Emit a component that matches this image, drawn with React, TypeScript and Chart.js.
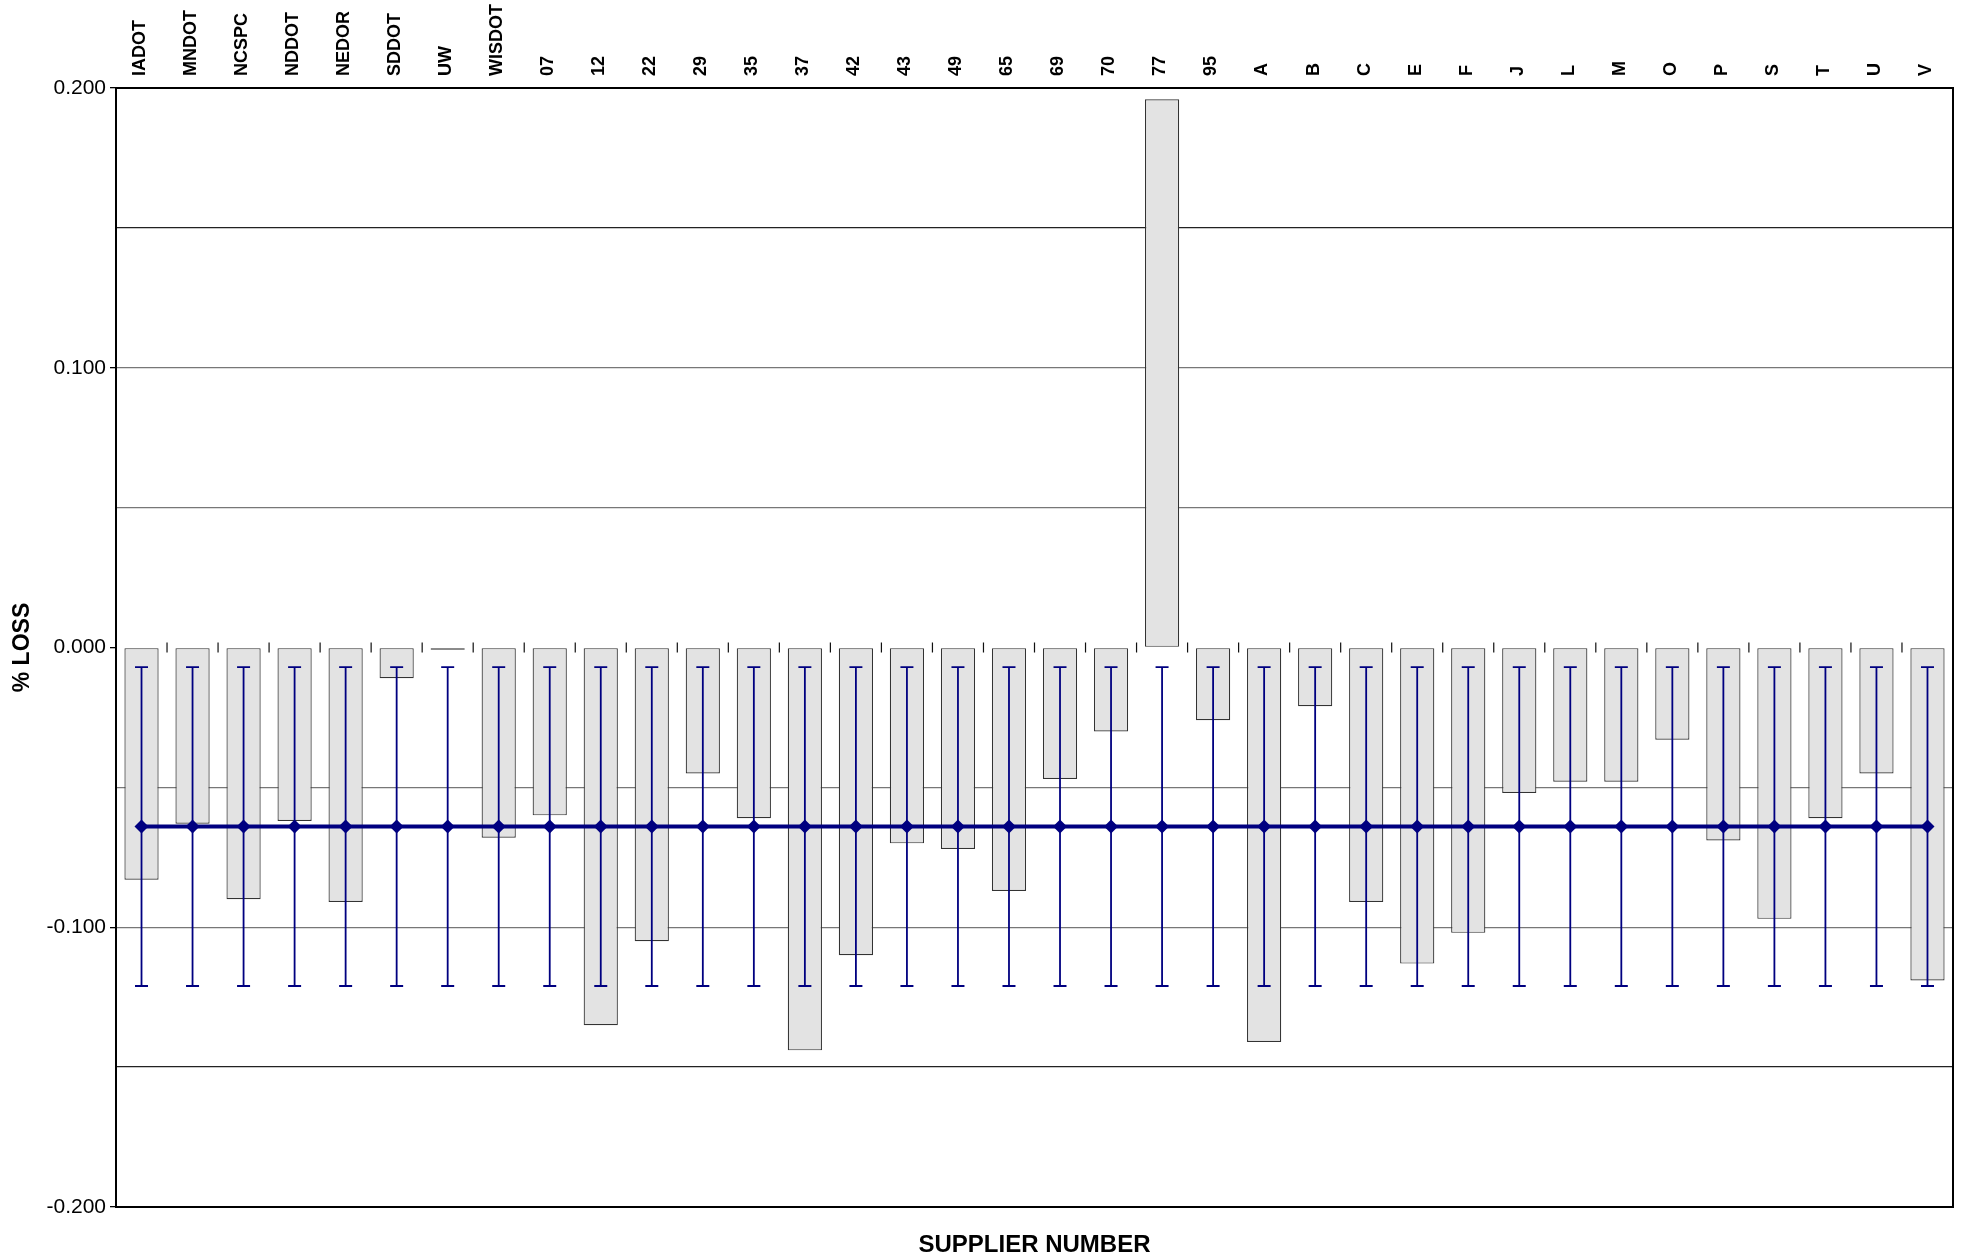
import React, { useEffect, useRef } from "react";
import { Chart, registerables } from "chart.js";

Chart.register(...registerables);

const categories = [
  "IADOT", "MNDOT", "NCSPC", "NDDOT", "NEDOR", "SDDOT", "UW", "WISDOT",
  "07", "12", "22", "29", "35", "37", "42", "43", "49", "65", "69", "70", "77", "95",
  "A", "B", "C", "E", "F", "J", "L", "M", "O", "P", "S", "T", "U", "V",
];

const lossValues = [
  -0.083, -0.063, -0.090, -0.062, -0.091, -0.011, -0.0008, -0.068,
  -0.060, -0.135, -0.105, -0.045, -0.061, -0.144, -0.110, -0.070, -0.072, -0.087, -0.047, -0.030, 0.196, -0.026,
  -0.141, -0.021, -0.091, -0.113, -0.102, -0.052, -0.048, -0.048, -0.033, -0.069, -0.097, -0.061, -0.045, -0.119,
];

const meanValues = categories.map(() => -0.064);
const errorMargins = categories.map(() => 0.057);

const yTickLabels = ["-0.200", "-0.100", "0.000", "0.100", "0.200"];

const FONT = "'Liberation Sans', Arial, sans-serif";
const NAVY = "#000080";

const errorBarPlugin = {
  id: "errorBars",
  afterDatasetsDraw(chart: any) {
    const x = chart.scales.x;
    const y = chart.scales.y;
    const ctx = chart.ctx;
    ctx.save();
    ctx.strokeStyle = NAVY;
    ctx.lineWidth = 1.8;
    meanValues.forEach((m, i) => {
      const px = x.getPixelForValue(i);
      const top = y.getPixelForValue(m + errorMargins[i]);
      const bot = y.getPixelForValue(m - errorMargins[i]);
      ctx.beginPath();
      ctx.moveTo(px, top);
      ctx.lineTo(px, bot);
      ctx.moveTo(px - 6.5, top);
      ctx.lineTo(px + 6.5, top);
      ctx.moveTo(px - 6.5, bot);
      ctx.lineTo(px + 6.5, bot);
      ctx.stroke();
    });
    ctx.restore();
  },
};

const frameAndZeroTicks = {
  id: "frameAndZeroTicks",
  afterDraw(chart: any) {
    const { ctx, chartArea } = chart;
    const x = chart.scales.x;
    const y = chart.scales.y;
    const y0 = y.getPixelForValue(0);
    ctx.save();
    ctx.strokeStyle = "#111";
    ctx.lineWidth = 1.2;
    ctx.beginPath();
    for (let i = 0; i < categories.length - 1; i++) {
      const bx = (x.getPixelForValue(i) + x.getPixelForValue(i + 1)) / 2;
      ctx.moveTo(bx, y0 - 5);
      ctx.lineTo(bx, y0 + 5);
    }
    ctx.stroke();
    ctx.strokeStyle = "#000";
    ctx.lineWidth = 2;
    ctx.strokeRect(chartArea.left, chartArea.top, chartArea.right - chartArea.left, chartArea.bottom - chartArea.top);
    ctx.restore();
  },
};

export default function App() {
  const canvasRef = useRef<HTMLCanvasElement | null>(null);

  useEffect(() => {
    document.body.style.margin = "0";
    document.body.style.overflow = "hidden";
    const canvas = canvasRef.current;
    if (!canvas) return;
    const chart = new Chart(canvas, {
      data: {
        labels: categories,
        datasets: [
          {
            type: "line",
            label: "Mean",
            data: meanValues,
            borderColor: NAVY,
            backgroundColor: NAVY,
            borderWidth: 4,
            pointStyle: "rectRot",
            pointRadius: 7,
            pointBackgroundColor: NAVY,
            pointBorderColor: NAVY,
            pointBorderWidth: 0,
            xAxisID: "x",
            yAxisID: "y",
            order: 0,
          } as any,
          {
            type: "bar",
            label: "% Loss",
            data: lossValues,
            backgroundColor: "#E3E3E3",
            borderColor: "#333",
            borderWidth: 1.2,
            borderSkipped: false,
            categoryPercentage: 1,
            barPercentage: 0.67,
            xAxisID: "x",
            yAxisID: "y",
            order: 1,
          } as any,
        ],
      },
      options: {
        animation: false,
        responsive: true,
        maintainAspectRatio: false,
        layout: { padding: { left: 0, right: 12, top: 0, bottom: 0 } },
        plugins: {
          legend: { display: false },
          tooltip: { enabled: false },
        },
        scales: {
          x: {
            type: "category",
            position: "top",
            grid: { display: false, drawTicks: false },
            border: { display: false },
            ticks: {
              autoSkip: false,
              minRotation: 90,
              maxRotation: 90,
              padding: 12,
              labelOffset: 20,
              color: "#000",
              font: { family: FONT, size: 18, weight: "bold" },
            },
            afterFit: (s: any) => {
              s.height = 88;
            },
          },
          x2: {
            type: "category",
            position: "bottom",
            labels: categories,
            grid: { display: false, drawTicks: false },
            border: { display: false },
            ticks: { display: false },
            title: {
              display: true,
              text: "SUPPLIER NUMBER",
              color: "#000",
              font: { family: FONT, size: 24, weight: "bold" },
              padding: { top: 0, bottom: 0 },
            },
            afterFit: (s: any) => {
              s.height = 53;
            },
          },
          y: {
            type: "linear",
            min: -0.2,
            max: 0.2,
            border: { display: false },
            grid: {
              color: (c: any) => {
                const v = Math.round(c.tick.value * 100);
                if (v === 0 || v === 20 || v === -20) return "rgba(0,0,0,0)";
                if (v === 15 || v === -15) return "#222";
                return "#777";
              },
              lineWidth: 1.3,
              tickLength: 6,
              tickColor: (c: any) => {
                const v = Math.round(c.tick.value * 100);
                return v % 10 === 0 ? "#000" : "rgba(0,0,0,0)";
              },
            },
            ticks: {
              stepSize: 0.05,
              padding: 4,
              color: "#000",
              font: { family: FONT, size: 21 },
              callback: (val: any) => {
                const v = Math.round(Number(val) * 100);
                if (v % 10 !== 0) return "";
                const idx = v / 10 + 2;
                return yTickLabels[idx];
              },
            },
            title: {
              display: true,
              text: "% LOSS",
              color: "#000",
              font: { family: FONT, size: 23, weight: "bold" },
              padding: { top: 9, bottom: 0 },
            },
            afterFit: (s: any) => {
              s.width = 116;
            },
          },
        },
      } as any,
      plugins: [errorBarPlugin, frameAndZeroTicks],
    });
    return () => chart.destroy();
  }, []);

  return (
    <div style={{ width: 1965, height: 1260, position: "relative" }}>
      <canvas ref={canvasRef} />
    </div>
  );
}
